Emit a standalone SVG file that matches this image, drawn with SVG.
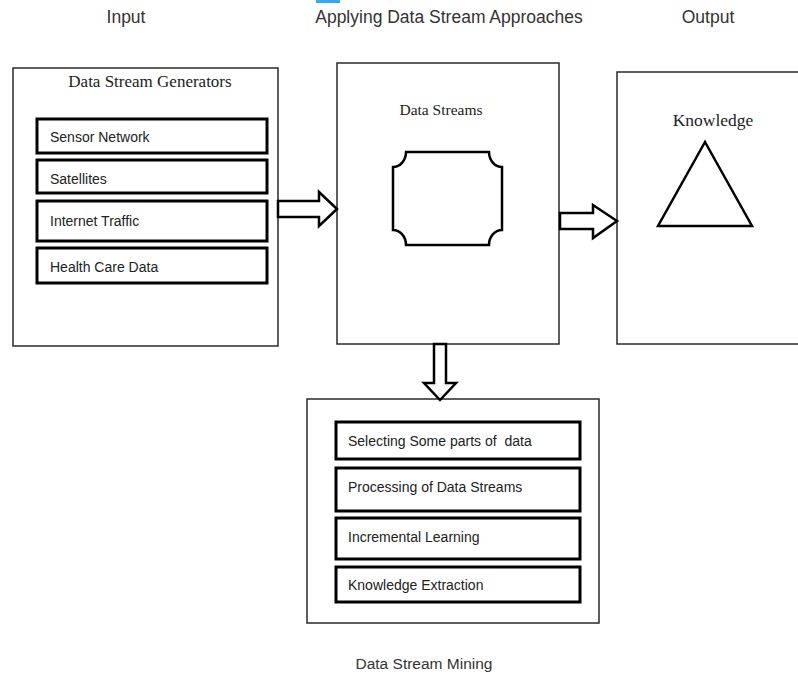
<svg xmlns="http://www.w3.org/2000/svg" width="798" height="674" viewBox="0 0 798 674">
  <defs>
    <style>
      .bg { fill: #ffffff; }
      .outer { fill: none; stroke: #2a2a2a; stroke-width: 1.5; }
      .inner { fill: #ffffff; stroke: #000000; stroke-width: 3; }
      .shape { fill: #ffffff; stroke: #000000; stroke-width: 2.5; stroke-linejoin: miter; }
      .head { font-family: "Liberation Sans", Arial, sans-serif; font-size: 17.5px; fill: #333333; }
      .serif { font-family: "Liberation Serif", "Times New Roman", serif; fill: #222222; }
      .item { font-family: "Liberation Sans", Arial, sans-serif; font-size: 14px; fill: #222222; white-space: pre; }
    </style>
  </defs>
  <rect class="bg" x="0" y="0" width="798" height="674"/>
  <rect x="316" y="0" width="24" height="3" fill="#3aa6f0"/>

  <g id="headings">
    <text class="head" x="126" y="23" text-anchor="middle">Input</text>
    <text class="head" x="449" y="23" text-anchor="middle">Applying Data Stream Approaches</text>
    <text class="head" x="708" y="23" text-anchor="middle">Output</text>
  </g>

  <g id="input-generators">
    <rect class="outer" x="13" y="68" width="265" height="278"/>
    <text class="serif" x="150" y="87" font-size="17" text-anchor="middle">Data Stream Generators</text>
    <g id="sensor-network">
      <rect class="inner" x="37" y="119" width="230" height="34"/>
      <text class="item" x="50" y="142">Sensor Network</text>
    </g>
    <g id="satellites">
      <rect class="inner" x="37" y="160" width="230" height="33"/>
      <text class="item" x="50" y="184">Satellites</text>
    </g>
    <g id="internet-traffic">
      <rect class="inner" x="37" y="201" width="230" height="40"/>
      <text class="item" x="50" y="226">Internet Traffic</text>
    </g>
    <g id="health-care-data">
      <rect class="inner" x="37" y="248" width="230" height="35"/>
      <text class="item" x="50" y="272">Health Care Data</text>
    </g>
  </g>

  <g id="data-streams">
    <rect class="outer" x="337" y="63" width="222" height="281"/>
    <text class="serif" x="441" y="115" font-size="15.5" text-anchor="middle">Data Streams</text>
    <path class="shape" d="M406,152 H489 A13,15 0 0 0 502,167 V230 A13,15 0 0 0 489,245 H406 A13,15 0 0 0 393,230 V167 A13,15 0 0 0 406,152 Z"/>
  </g>

  <g id="output-knowledge">
    <rect class="outer" x="617" y="72" width="200" height="272"/>
    <text class="serif" x="713" y="126" font-size="17.5" text-anchor="middle">Knowledge</text>
    <polygon class="shape" points="705,142 658,226 752,226"/>
  </g>

  <g id="data-stream-mining">
    <rect class="outer" x="307" y="399" width="292" height="224"/>
    <g id="selecting">
      <rect class="inner" x="336" y="422" width="244" height="37"/>
      <text class="item" x="348" y="446" xml:space="preserve">Selecting Some parts of  data</text>
    </g>
    <g id="processing">
      <rect class="inner" x="336" y="468" width="244" height="43"/>
      <text class="item" x="348" y="492">Processing of Data Streams</text>
    </g>
    <g id="incremental">
      <rect class="inner" x="336" y="518" width="244" height="41"/>
      <text class="item" x="348" y="542">Incremental Learning</text>
    </g>
    <g id="extraction">
      <rect class="inner" x="336" y="567" width="244" height="35"/>
      <text class="item" x="348" y="590">Knowledge Extraction</text>
    </g>
    <text class="head" x="424" y="669" style="font-size:15.5px" text-anchor="middle">Data Stream Mining</text>
  </g>

  <g id="connectors">
    <polygon class="shape" points="278,201 319,201 319,192 337,209 319,226 319,217 278,217"/>
    <polygon class="shape" points="560,213 593,213 593,205 617,221 593,238 593,229 560,229"/>
    <polygon class="shape" points="434,344 446,344 446,383 456,383 440,400 424,383 434,383"/>
  </g>
</svg>
